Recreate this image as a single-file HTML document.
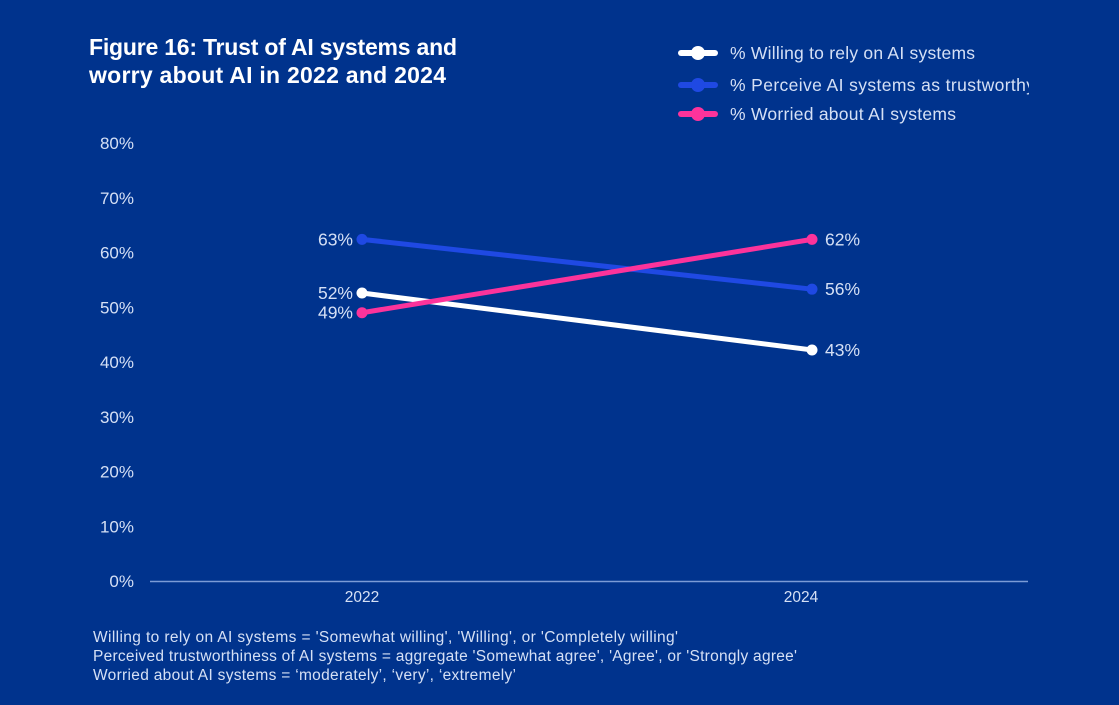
<!DOCTYPE html>
<html lang="en">
<head>
<meta charset="utf-8">
<title>Figure 16: Trust of AI systems and worry about AI in 2022 and 2024</title>
<style>
html,body{margin:0;padding:0;background:#00338d;width:1119px;height:705px;overflow:hidden}
svg{display:block;font-family:"Liberation Sans",sans-serif}
.light{fill:#d5e0f5}
</style>
</head>
<body>
<svg id="chart" xmlns="http://www.w3.org/2000/svg" width="1119" height="705" viewBox="0 0 1119 705">
  <defs><clipPath id="legend-clip"><rect x="660" y="30" width="369" height="110"/></clipPath></defs>
  <rect width="1119" height="705" fill="#00338d"/>
  <text x="89" y="55" font-size="23" font-weight="700" fill="#fff" textLength="368" lengthAdjust="spacing">Figure 16: Trust of AI systems and</text>
  <text x="89" y="83" font-size="23" font-weight="700" fill="#fff" textLength="357" lengthAdjust="spacing">worry about AI in 2022 and 2024</text>
  <g id="legend" clip-path="url(#legend-clip)"></g>
  <g id="y-axis"></g>
  <line x1="150" y1="581.5" x2="1028" y2="581.5" stroke="#7b9bd6" stroke-width="1.5"/>
  <g id="x-axis"></g>
  <g id="series"></g>
  <g font-size="15.5" class="light">
    <text x="93" y="642" textLength="585" lengthAdjust="spacing">Willing to rely on AI systems = 'Somewhat willing', 'Willing', or 'Completely willing'</text>
    <text x="93" y="661" textLength="704" lengthAdjust="spacing">Perceived trustworthiness of AI systems = aggregate 'Somewhat agree', 'Agree', or 'Strongly agree'</text>
    <text x="93" y="680" textLength="423" lengthAdjust="spacing">Worried about AI systems = ‘moderately’, ‘very’, ‘extremely’</text>
  </g>
</svg>
<script>
const categories = ['2022', '2024'];
const yTicks = [0, 10, 20, 30, 40, 50, 60, 70, 80];
const seriesNames = ['% Willing to rely on AI systems', '% Perceive AI systems as trustworthy', '% Worried about AI systems'];
const seriesKeys = ['willing', 'trustworthy', 'worried'];
const seriesColors = ['#ffffff', '#1f49e3', '#fc339b'];
const willingValues = [52.6, 42.2];
const trustworthyValues = [62.4, 53.3];
const worriedValues = [49.0, 62.4];
const willingLabels = ['52%', '43%'];
const trustworthyLabels = ['63%', '56%'];
const worriedLabels = ['49%', '62%'];

const allValues = [willingValues, trustworthyValues, worriedValues];
const allLabels = [willingLabels, trustworthyLabels, worriedLabels];
const NS = 'http://www.w3.org/2000/svg';

function yScale(v) { return 581 - v * (438 / 80); }
function markX(i) { return 362 + i * 450; }
function tickX(i) { return 362 + i * 439; }

function svgEl(tag, attrs, parent, text) {
  const el = document.createElementNS(NS, tag);
  for (const k in attrs) el.setAttribute(k, attrs[k]);
  if (text !== undefined) el.textContent = text;
  parent.appendChild(el);
  return el;
}

const yAxis = document.getElementById('y-axis');
yTicks.forEach(function (t) {
  const el = svgEl('text', { x: 134, y: yScale(t) + 6, 'text-anchor': 'end', 'font-size': 17, class: 'light' }, yAxis, t + '%');
  
  
});

const xAxis = document.getElementById('x-axis');
categories.forEach(function (c, i) {
  const el = svgEl('text', { x: tickX(i), y: 602, 'text-anchor': 'middle', 'font-size': 15.5, class: 'light' }, xAxis, c);
  
  
});

const seriesLayer = document.getElementById('series');
allValues.forEach(function (vals, s) {
  const g = svgEl('g', {}, seriesLayer);
  
  
  const pts = vals.map(function (v, i) { return markX(i) + ',' + yScale(v); }).join(' ');
  const line = svgEl('polyline', { points: pts, fill: 'none', stroke: seriesColors[s], 'stroke-width': 5 }, g);
  
  
  vals.forEach(function (v, i) {
    const dot = svgEl('circle', { cx: markX(i), cy: yScale(v), r: 5.5, fill: seriesColors[s] }, g);
    
    
    const left = i === 0;
    const lab = svgEl('text', {
      x: left ? markX(i) - 9 : markX(i) + 13,
      y: yScale(v) + 6,
      'text-anchor': left ? 'end' : 'start',
      'font-size': 17.5,
      class: 'light'
    }, g, allLabels[s][i]);
    
    
  });
});

const legend = document.getElementById('legend');
const legendRowY = [53, 85, 114];
const legendTextLengths = [245, 305, 226];
seriesNames.forEach(function (name, s) {
  const g = svgEl('g', {}, legend);
  
  
  const y = legendRowY[s];
  const swatch = svgEl('line', { x1: 681, x2: 715, y1: y, y2: y, stroke: seriesColors[s], 'stroke-width': 6, 'stroke-linecap': 'round' }, g);
  
  
  const dot = svgEl('circle', { cx: 698, cy: y, r: 7, fill: seriesColors[s] }, g);
  
  
  const label = svgEl('text', { x: 730, y: y + 6, 'font-size': 17.5, class: 'light', textLength: legendTextLengths[s], lengthAdjust: 'spacing' }, g, name);
  
  
});
</script>
</body>
</html>
